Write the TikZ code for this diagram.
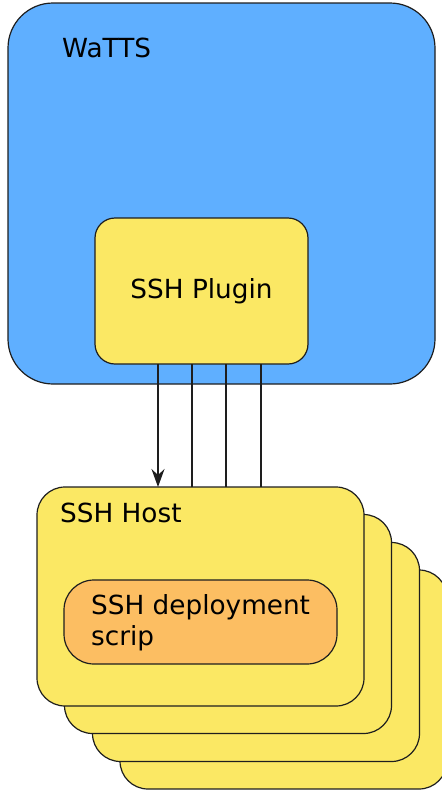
\documentclass[tikz,border=0pt]{standalone}
\usepackage{fontspec}
\setmainfont{DejaVu Sans}
\usetikzlibrary{arrows.meta}
\definecolor{wblue}{RGB}{95,175,255}
\definecolor{hyellow}{RGB}{251,232,100}
\definecolor{sorange}{RGB}{252,190,98}
\definecolor{edge}{RGB}{30,30,30}
\tikzset{
  box/.style={draw=edge, line width=1.2pt, inner sep=0pt, outer sep=0pt, anchor=north west},
  hostbox/.style={box, fill=hyellow, minimum width=327pt, minimum height=219pt, rounded corners=28pt},
  lbl/.style={inner sep=0pt, anchor=base west, font=\fontsize{26.3}{31}\selectfont},
  conn/.style={draw=edge, line width=1.2pt},
}
\begin{document}
\begin{tikzpicture}[x=1pt,y=-1pt]
\useasboundingbox (0,0) rectangle (442,793);
\clip (0,0) rectangle (442,793);
\node[box, fill=wblue, minimum width=427pt, minimum height=381pt, rounded corners=45pt] (watts) at (8,3) {};
\node[lbl] (wattslbl) at (62,57) {WaTTS};
\node[box, fill=hyellow, minimum width=213pt, minimum height=146pt, rounded corners=20pt, font=\fontsize{26.3}{31}\selectfont] (plugin) at (95,218) {SSH Plugin};
\node[hostbox] (host4) at (120,570) {};
\node[hostbox] (host3) at (92.5,542.5) {};
\node[hostbox] (host2) at (64.5,514.5) {};
\node[hostbox] (host1) at (37,487) {};
\node[lbl] (hostlbl) at (60,522) {SSH Host};
\node[box, fill=sorange, minimum width=273pt, minimum height=84pt, rounded corners=30pt] (script) at (64,580) {};
\node[lbl, align=left, anchor=north west] (scriptlbl) at (91,594.5) {SSH deployment\\scrip};
\coordinate (c1) at (158,0);
\coordinate (c2) at (192,0);
\coordinate (c3) at (226,0);
\coordinate (c4) at (261,0);
\draw[conn, -{Stealth[length=18pt,width=13pt,inset=6pt]}] (plugin.south -| c1) -- (host1.north -| c1);
\draw[conn] (plugin.south -| c2) -- (host1.north -| c2);
\draw[conn] (plugin.south -| c3) -- (host1.north -| c3);
\draw[conn] (plugin.south -| c4) -- (host1.north -| c4);
\end{tikzpicture}
\end{document}
